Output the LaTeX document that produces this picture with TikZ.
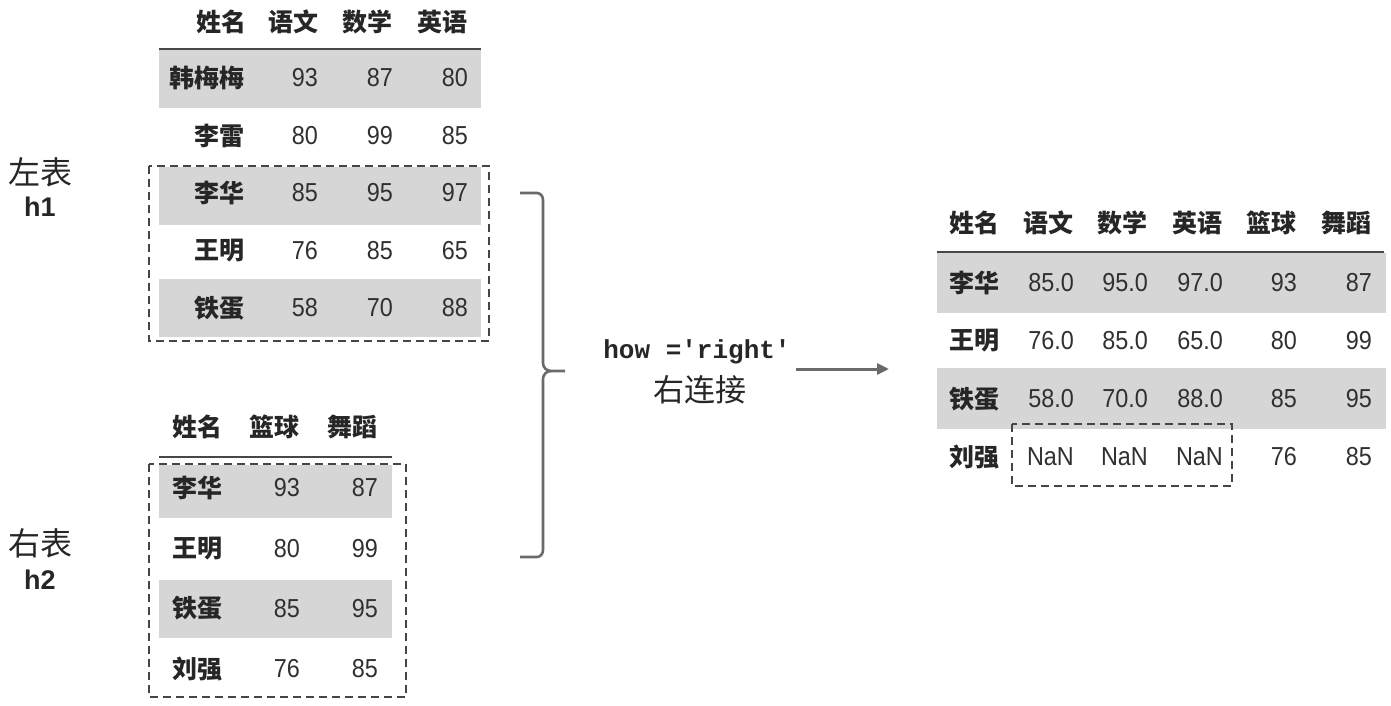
\documentclass[tikz,border=0pt]{standalone}
\usepackage{fontspec}
\setmainfont{Liberation Sans}
\newfontfamily\numfont{Liberation Sans}[FakeStretch=0.9]
\newfontfamily\cjk{Noto Sans CJK SC}
\newfontfamily\mono{Liberation Mono}
\usetikzlibrary{arrows.meta}
\definecolor{rowgray}{HTML}{D6D6D6}
\definecolor{ink}{HTML}{262626}
\definecolor{numink}{HTML}{303030}
\definecolor{linegray}{HTML}{6A6A6A}
\definecolor{dashgray}{HTML}{454545}
\tikzset{
  num/.style={inner sep=0pt, anchor=east, font=\numfont\fontsize{26}{26}\selectfont, text=numink},
  hdr/.style={inner sep=0pt, anchor=east, font=\cjk\bfseries\fontsize{25}{25}\selectfont, text=ink},
  rowlabel/.style={hdr},
  rowlabelw/.style={hdr, anchor=west},
  side/.style={inner sep=0pt, font=\cjk\fontsize{32}{32}\selectfont, text=ink},
  sideb/.style={inner sep=0pt, font=\bfseries\fontsize{27}{27}\selectfont, text=ink},
  hline/.style={draw=ink!85, line width=2.6pt},
  dashbox/.style={draw=dashgray, line width=2.5pt, dash pattern=on 8pt off 5pt},
  brace/.style={draw=linegray, line width=2.6pt},
  conn/.style={draw=linegray, line width=3pt, -{Triangle[length=12pt,width=11pt]}},
}
\begin{document}
\begin{tikzpicture}[x=1pt,y=-1pt]
\useasboundingbox (0,0) rectangle (1391,706);

% ---------- left table h1 ----------
\fill[rowgray] (159,49) rectangle (481,108);
\fill[rowgray] (159,167) rectangle (481,225);
\fill[rowgray] (159,279) rectangle (481,337);
\coordinate (h1l) at (159,49);
\coordinate (h1r) at (481,49);
\draw[hline] (h1l) -- (h1r);
\node[hdr] (h1hname) at (247,22) {姓名};
\node[hdr] (h1hyw) at (319,22) {语文};
\node[hdr] (h1hsx) at (393,22) {数学};
\node[hdr] (h1hyy) at (468,22) {英语};
\foreach \n/\a/\b/\c [count=\i] in {韩梅梅/93/87/80, 李雷/80/99/85, 李华/85/95/97, 王明/76/85/65, 铁蛋/58/70/88} {
  \pgfmathsetmacro\yy{78+57.5*(\i-1)}
  \node[rowlabel] (h1n\i) at (245,\yy) {\n};
  \node[num] (h1a\i) at (318,\yy) {\a};
  \node[num] (h1b\i) at (393,\yy) {\b};
  \node[num] (h1c\i) at (468,\yy) {\c};
}
\draw[dashbox] (149,166) rectangle (489,341);
\node[side] (lt) at (41,172) {左表};
\node[sideb] (lt2) at (40,207) {h1};

% ---------- left table h2 ----------
\fill[rowgray] (159,465) rectangle (392,518);
\fill[rowgray] (159,580) rectangle (392,638);
\coordinate (h2l) at (159,457);
\coordinate (h2r) at (392,457);
\draw[hline] (h2l) -- (h2r);
\node[hdr] (h2hname) at (223,427) {姓名};
\node[hdr] (h2hlq) at (300,427) {篮球};
\node[hdr] (h2hwd) at (378,427) {舞蹈};
\foreach \n/\a/\b [count=\i] in {李华/93/87, 王明/80/99, 铁蛋/85/95, 刘强/76/85} {
  \pgfmathsetmacro\yy{488+60.3*(\i-1)}
  \node[rowlabelw] (h2n\i) at (172,\yy) {\n};
  \node[num] (h2a\i) at (300,\yy) {\a};
  \node[num] (h2b\i) at (378,\yy) {\b};
}
\draw[dashbox] (149,464) rectangle (406,697);
\node[side] (rt) at (41,543) {右表};
\node[sideb] (rt2) at (40,580) {h2};

% ---------- brace ----------
\draw[brace] (520,193) -- (537,193) to[out=0,in=90] (543,200) -- (543,363)
             to[out=-90,in=180] (551,371) -- (565,371);
\draw[brace] (551,371) to[out=180,in=90] (543,379) -- (543,550)
             to[out=-90,in=0] (537,557) -- (520,557);

% ---------- operation label and arrow ----------
\node[inner sep=0pt, font=\mono\bfseries\fontsize{26}{26}\selectfont, text=ink] (how) at (697,352) {how ='right'};
\node[inner sep=0pt, font=\cjk\fontsize{31}{31}\selectfont, text=ink] (how2) at (700,390) {右连接};
\coordinate (arrs) at (796,369);
\coordinate (arre) at (889,369);
\draw[conn] (arrs) -- (arre);

% ---------- result table ----------
\fill[rowgray] (937,253) rectangle (1386,313);
\fill[rowgray] (937,368) rectangle (1386,429);
\coordinate (rl) at (937,252);
\coordinate (rr) at (1384,252);
\draw[hline] (rl) -- (rr);
\node[hdr] (rhname) at (1000,223) {姓名};
\node[hdr] (rhyw) at (1074,223) {语文};
\node[hdr] (rhsx) at (1148,223) {数学};
\node[hdr] (rhyy) at (1223,223) {英语};
\node[hdr] (rhlq) at (1297,223) {篮球};
\node[hdr] (rhwd) at (1372,223) {舞蹈};
\foreach \n/\a/\b/\c/\d/\e [count=\i] in {李华/85.0/95.0/97.0/93/87, 王明/76.0/85.0/65.0/80/99, 铁蛋/58.0/70.0/88.0/85/95, 刘强/NaN/NaN/NaN/76/85} {
  \pgfmathsetmacro\yy{283+58*(\i-1)}
  \node[rowlabel] (rn\i) at (1000,\yy) {\n};
  \node[num] (ra\i) at (1074,\yy) {\a};
  \node[num] (rb\i) at (1148,\yy) {\b};
  \node[num] (rc\i) at (1223,\yy) {\c};
  \node[num] (rd\i) at (1297,\yy) {\d};
  \node[num] (re\i) at (1372,\yy) {\e};
}
\draw[dashbox] (1012,424) rectangle (1232,486);
\end{tikzpicture}
\end{document}
